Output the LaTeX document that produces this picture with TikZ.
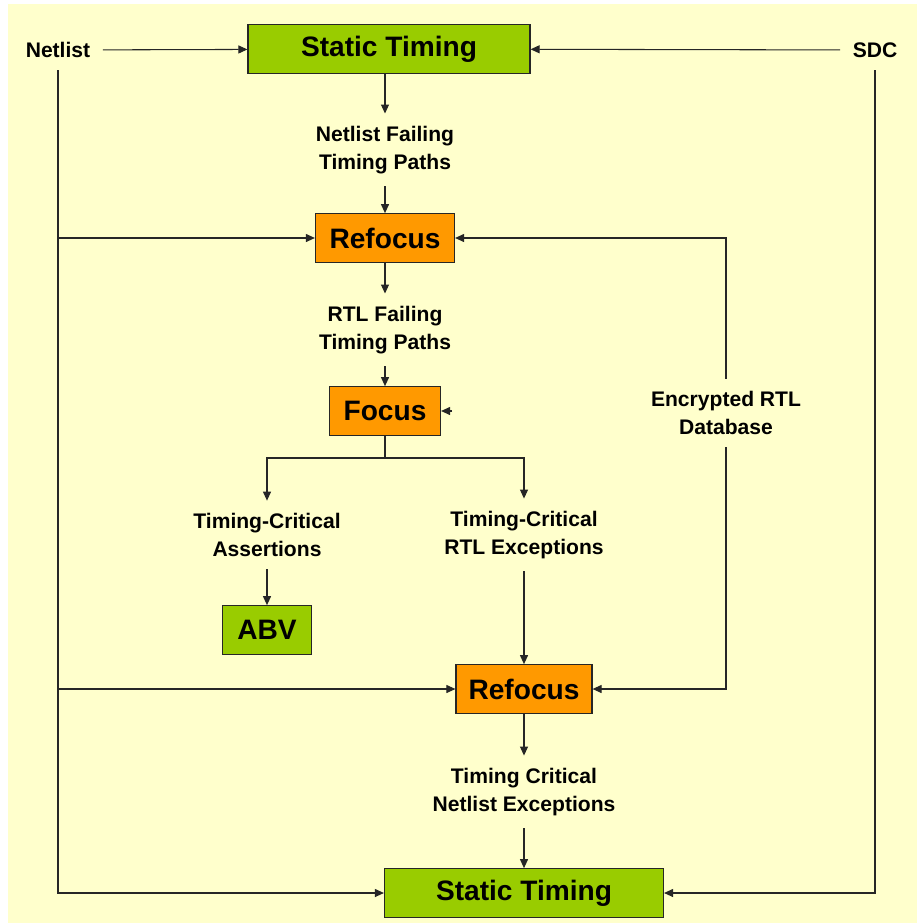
\documentclass[tikz,border=0pt]{standalone}
\usepackage{fontspec}
\setmainfont{Liberation Sans}
\usetikzlibrary{
  positioning,
  arrows.meta,
  calc
}
\definecolor{sheet}{HTML}{FFFFCC}
\definecolor{stagreen}{HTML}{99CC00}
\definecolor{focorange}{HTML}{FF9900}
\definecolor{wire}{HTML}{262626}

\begin{document}
\begin{tikzpicture}[
  x=0.02cm, y=-0.02cm,
  box/.style={draw=wire, line width=0.7pt, minimum height=0.97cm,
              align=center, font=\fontsize{16}{18}\selectfont\bfseries},
  sta/.style={box, fill=stagreen},
  foc/.style={box, fill=focorange},
  lbl/.style={align=center, inner sep=7pt, font=\fontsize{12}{15.9}\selectfont\bfseries},
  arr/.style={-{Triangle[length=1.8mm, width=1.6mm]}, line width=0.6pt, wire},
  wr/.style={line width=0.6pt, wire}
]
  \useasboundingbox (0,0) rectangle (917,923);
  \fill[sheet] (8,4) rectangle (917,923);

  % inputs
  \node[lbl] (netlist) at (58,50) {Netlist};
  \node[lbl] (sdc) at (875,50) {SDC};

  % main flow
  \node[sta, minimum width=5.64cm] (staTop) at (389,49) {Static Timing};
  \node[lbl] (nlPaths) at (385,150) {Netlist Failing\\Timing Paths};
  \node[foc, minimum width=2.78cm] (refocusA) at (385,238) {Refocus};
  \node[lbl] (rtlPaths) at (385,330) {RTL Failing\\Timing Paths};
  \node[foc, minimum width=2.22cm] (focus) at (385,411) {Focus};
  \coordinate (split) at (385,458);
  \coordinate (stub) at (452,411);

  \node[lbl] (assert) at (267,535) {Timing-Critical\\Assertions};
  \node[lbl] (rtlExc) at (524,535) {Timing-Critical\\RTL Exceptions};
  \node[sta, minimum width=1.78cm] (abv) at (267,630) {ABV};
  \node[foc, minimum width=2.72cm] (refocusB) at (524,689) {Refocus};
  \node[lbl] (nlExc) at (524,792) {Timing Critical\\Netlist Exceptions};
  \node[sta, minimum width=5.58cm] (staBot) at (524,893) {Static Timing};

  \node[lbl] (encDb) at (726,413) {Encrypted RTL\\Database};

  % connectors
  \draw[arr] (netlist) -- (staTop);
  \draw[arr] (sdc) -- (staTop);
  \draw[arr] (staTop.south -| nlPaths) -- (nlPaths);
  \draw[arr] (nlPaths) -- (refocusA);
  \draw[arr] (refocusA) -- (rtlPaths);
  \draw[arr] (rtlPaths) -- (focus);
  \draw[arr] (stub) -- (focus);
  \draw[wr] (focus) -- (split);
  \draw[arr] (split) -| (assert);
  \draw[arr] (split) -| (rtlExc);
  \draw[arr] (assert) -- (abv);
  \draw[arr] (rtlExc) -- (refocusB);
  \draw[arr] (refocusB) -- (nlExc);
  \draw[arr] (nlExc) -- (staBot);

  \draw[arr] (netlist) |- (staBot);
  \draw[arr] (netlist.south |- refocusA) -- (refocusA);
  \draw[arr] (netlist.south |- refocusB) -- (refocusB);
  \draw[arr] (sdc) |- (staBot);
  \draw[arr] (encDb) |- (refocusA);
  \draw[arr] (encDb) |- (refocusB);
\end{tikzpicture}
\end{document}
